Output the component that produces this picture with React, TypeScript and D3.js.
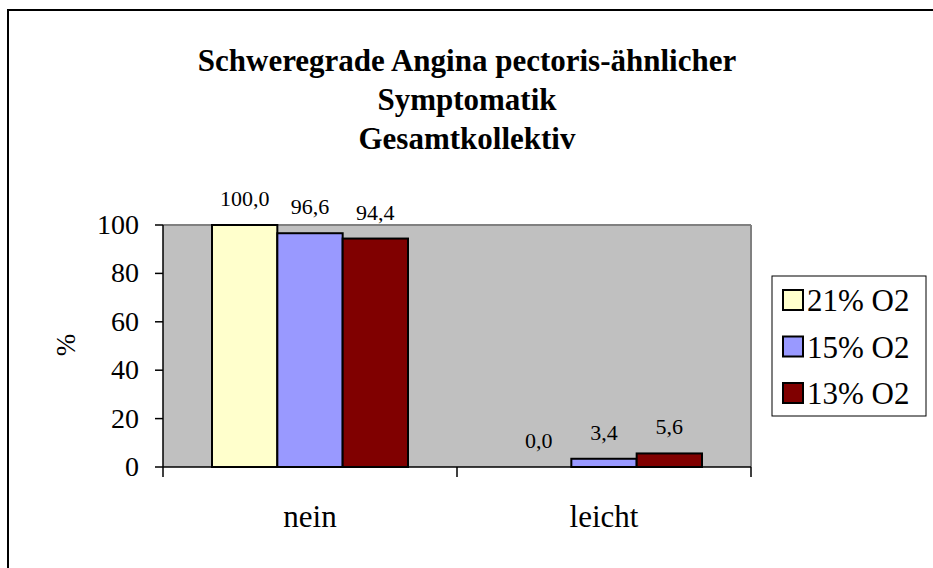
import React from "react";
import * as d3 from "d3";

const categories = ["nein", "leicht"];
const seriesNames = ["21% O2", "15% O2", "13% O2"];
const series21 = [100.0, 0.0];
const series15 = [96.6, 3.4];
const series13 = [94.4, 5.6];
const seriesColors = ["#FFFFCC", "#9999FF", "#800000"];
const yTicks = [0, 20, 40, 60, 80, 100];
const titleLines = ["Schweregrade Angina pectoris-ähnlicher", "Symptomatik", "Gesamtkollektiv"];

const W = 933;
const H = 568;
const plot = { left: 163, right: 751, top: 225, bottom: 467 };
const FONT = '"Liberation Serif", "Times New Roman", "DejaVu Serif", serif';

export default function App() {
  const allSeries = [series21, series15, series13];
  const x = d3.scaleBand<string>().domain(categories).range([plot.left, plot.right]).paddingInner(0).paddingOuter(0);
  const y = d3.scaleLinear().domain([0, 100]).range([plot.bottom, plot.top]);
  const bw = x.bandwidth();
  const inner = d3
    .scaleBand<number>()
    .domain(d3.range(seriesNames.length))
    .range([0, bw])
    .paddingInner(0)
    .paddingOuter(0.75);
  const fmt = (v: number) => v.toFixed(1).replace(".", ",");
  const ts = { fontFamily: FONT } as React.CSSProperties;

  return (
    <svg width={W} height={H} style={{ position: "absolute", left: 0, top: 0, background: "#fff", fontFamily: FONT }}>
      <line x1={8} x2={W} y1={10} y2={10} stroke="#000" strokeWidth={2} />
      <line x1={8} x2={8} y1={9} y2={H} stroke="#000" strokeWidth={2} />
      {titleLines.map((t, i) => (
        <text key={i} x={467} y={71 + i * 39} textAnchor="middle" fontWeight="bold" fontSize={31} fill="#000" style={ts}>
          {t}
        </text>
      ))}
      {/* plot area */}
      <rect x={plot.left} y={plot.top} width={plot.right - plot.left} height={plot.bottom - plot.top} fill="#C0C0C0" />
      <line x1={plot.left} x2={plot.right} y1={plot.top} y2={plot.top} stroke="#808080" strokeWidth={2} />
      <line x1={plot.right} x2={plot.right} y1={plot.top} y2={plot.bottom} stroke="#808080" strokeWidth={2} />
      {/* bars */}
      {categories.map((c, ci) => (
        <g key={c}>
          {allSeries.map((s, si) => {
            const bx = (x(c) as number) + (inner(si) as number);
            const by = y(s[ci]);
            const h = plot.bottom - by;
            return (
              <g key={si}>
                {s[ci] > 0 && (
                  <rect x={bx} y={by} width={inner.bandwidth()} height={h} fill={seriesColors[si]} stroke="#000" strokeWidth={2} />
                )}
                <text x={bx + inner.bandwidth() / 2} y={by - 19} textAnchor="middle" fontSize={22} fill="#000" style={ts}>
                  {fmt(s[ci])}
                </text>
              </g>
            );
          })}
        </g>
      ))}
      {/* axes */}
      <line x1={plot.left} x2={plot.left} y1={plot.top} y2={plot.bottom + 10} stroke="#000" strokeWidth={1.5} />
      <line x1={plot.left} x2={plot.right} y1={plot.bottom} y2={plot.bottom} stroke="#000" strokeWidth={1.5} />
      {yTicks.map((t) => (
        <g key={t}>
          <line x1={plot.left - 8} x2={plot.left} y1={y(t)} y2={y(t)} stroke="#000" strokeWidth={1.5} />
          <text x={139} y={y(t) + 9} textAnchor="end" fontSize={28} fill="#000" style={ts}>
            {t}
          </text>
        </g>
      ))}
      {categories.map((c, ci) => (
        <g key={c}>
          <line
            x1={(x(c) as number) + bw}
            x2={(x(c) as number) + bw}
            y1={plot.bottom}
            y2={plot.bottom + 10}
            stroke="#000"
            strokeWidth={1.5}
          />
          <text x={(x(c) as number) + bw / 2} y={527} textAnchor="middle" fontSize={31} fill="#000" style={ts}>
            {c}
          </text>
        </g>
      ))}
      <text transform="translate(66,345) rotate(-90)" dy={9} textAnchor="middle" fontSize={27} fill="#000" style={ts}>
        %
      </text>
      {/* legend */}
      <rect x={772} y={276} width={154} height={140} fill="#fff" stroke="#000" strokeWidth={1} />
      {seriesNames.map((n, i) => (
        <g key={n}>
          <rect x={783} y={290 + i * 46.5} width={20} height={20} fill={seriesColors[i]} stroke="#000" strokeWidth={2} />
          <text x={807} y={311 + i * 46.5} fontSize={31} fill="#000" style={ts}>
            {n}
          </text>
        </g>
      ))}
    </svg>
  );
}
